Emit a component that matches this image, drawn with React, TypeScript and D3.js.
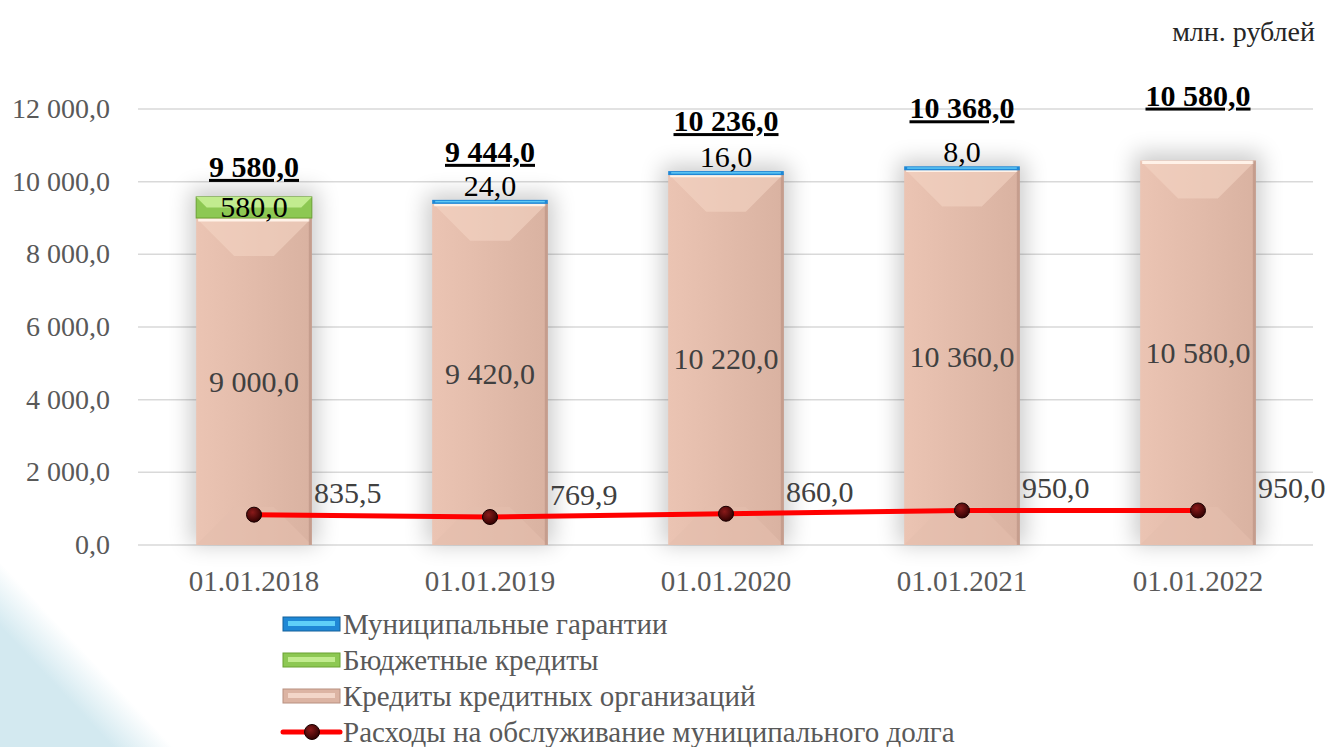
import React from 'react';
import * as d3 from 'd3';

const dates = ['01.01.2018', '01.01.2019', '01.01.2020', '01.01.2021', '01.01.2022'];
const creditOrg = [9000, 9420, 10220, 10360, 10580];
const budgetCredits = [580, 0, 0, 0, 0];
const guarantees = [0, 24, 16, 8, 0];
const debtExpenses = [835.5, 769.9, 860, 950, 950];
const yTicks = [0, 2000, 4000, 6000, 8000, 10000, 12000];

const legendItems = [
  'Муниципальные гарантии',
  'Бюджетные кредиты',
  'Кредиты кредитных организаций',
  'Расходы на обслуживание муниципального долга',
];

const fmt = (v: number) => {
  const [int, dec] = v.toFixed(1).split('.');
  return int.replace(/\B(?=(\d{3})+(?!\d))/g, ' ') + ',' + dec;
};

const width = 1338;
const height = 747;
const x = d3.scalePoint<string>().domain(dates).range([136, 1316]).padding(0.5);
const y = d3.scaleLinear().domain([0, 12000]).range([545, 109]);
const barW = x.step() * 0.49;

// ручное смещение итоговых подписей над столбцами, как в оригинале
const totalLift = [30, 50, 52, 60, 65];

const line = d3.line<number>().x((_, i) => x(dates[i])!).y(v => y(v));

const PinkBar = ({ x0, y0, w, h }: { x0: number; y0: number; w: number; h: number }) => {
  const b = Math.min(38, h / 2, w / 2);
  return (
    <g>
      <rect x={x0} y={y0} width={w} height={h} fill="url(#pinkH)" />
      <polygon points={`${x0},${y0} ${x0 + w},${y0} ${x0 + w - b},${y0 + b} ${x0 + b},${y0 + b}`}
        fill="#f4d3c3" opacity={0.6} />
      <line x1={x0 + 2} x2={x0 + w - 2} y1={y0 + 2} y2={y0 + 2} stroke="#fff2e8" strokeWidth={3} />
      <polygon points={`${x0},${y0 + h} ${x0 + w},${y0 + h} ${x0 + w - b},${y0 + h - b} ${x0 + b},${y0 + h - b}`}
        fill="#e5bead" opacity={0.6} />
      <rect x={x0 + w - 3} y={y0} width={3} height={h} fill="#b88f80" opacity={0.6} />
    </g>
  );
};

const txt = (size: number, fill: string, bold = false) => ({
  style: bold
    ? { fontFamily: '"Liberation Serif"', fontWeight: 700, textDecoration: 'underline' }
    : { fontFamily: '"Liberation Serif"' },
  fontSize: size,
  fill,
});

const App = () => (
  <svg width={width} height={height} style={{ position: 'absolute', left: 0, top: 0 }}>
    <defs>
      <linearGradient id="bgGrad" gradientUnits="userSpaceOnUse" x1={88} y1={656} x2={56} y2={686}>
        <stop offset="0" stopColor="#d3e9f0" stopOpacity={0} />
        <stop offset="1" stopColor="#d3e9f0" stopOpacity={1} />
      </linearGradient>
      <filter id="glow" x="-50%" y="-50%" width="200%" height="200%">
        <feGaussianBlur stdDeviation={11} />
      </filter>
      <linearGradient id="pinkH">
        <stop offset="0" stopColor="#ebc4b3" />
        <stop offset="1" stopColor="#d9b2a1" />
      </linearGradient>
      <radialGradient id="mk" cx="0.4" cy="0.35" r="0.7">
        <stop offset="0" stopColor="#8a1a1a" />
        <stop offset="1" stopColor="#2a0000" />
      </radialGradient>
    </defs>

    <rect x={0} y={560} width={220} height={190} fill="url(#bgGrad)" />

    {/* сетка и ось Y */}
    {yTicks.map(t => (
      <g key={t}>
        <line x1={138} x2={1313} y1={y(t)} y2={y(t)} stroke="#d9d9d9" strokeWidth={1.5} />
        <text x={110} y={y(t) + 9} textAnchor="end" {...txt(28, '#595959')}>{fmt(t)}</text>
      </g>
    ))}

    {dates.map(d => (
      <text key={d} x={x(d)} y={591} textAnchor="middle" {...txt(29, '#595959')}>{d}</text>
    ))}

    <text x={1315} y={41} textAnchor="end" {...txt(28, '#262626')}>млн. рублей</text>

    {/* тени */}
    {dates.map((d, i) => {
      const total = creditOrg[i] + budgetCredits[i] + guarantees[i];
      return (
        <rect key={d} x={x(d)! - barW / 2 - 6} y={y(total) - 8} width={barW + 12}
          height={y(0) - y(total) + 8} fill="#000" opacity={0.2} filter="url(#glow)" />
      );
    })}

    {/* столбцы */}
    {dates.map((d, i) => {
      const cx = x(d)!;
      const x0 = cx - barW / 2;
      const top0 = y(creditOrg[i]);
      const base = creditOrg[i] + budgetCredits[i];
      const tg = y(base);
      const hg = top0 - tg;
      const tb = y(base + guarantees[i]);
      return (
        <g key={d}>
          <PinkBar x0={x0} y0={top0} w={barW} h={y(0) - top0} />
          {budgetCredits[i] > 0 && (
            <g>
              <rect x={x0} y={tg} width={barW} height={hg} fill="#8dc853" stroke="#6aa232" />
              <polygon points={`${x0},${tg} ${x0 + barW},${tg} ${x0 + barW - hg / 2},${tg + hg / 2} ${x0 + hg / 2},${tg + hg / 2}`}
                fill="#c2ec8f" />
              <text x={cx} y={(tg + top0) / 2 + 10} textAnchor="middle" {...txt(30, '#000')}>
                {fmt(budgetCredits[i])}
              </text>
            </g>
          )}
          {guarantees[i] > 0 && (
            <g>
              <rect x={x0} y={tb - 2} width={barW} height={4} fill="#1f88d6" />
              <rect x={x0 + 3} y={tb - 1} width={barW - 6} height={1.5} fill="#5fc8f5" />
              <text x={cx} y={tb - 6} textAnchor="middle" {...txt(30, '#000')}>{fmt(guarantees[i])}</text>
            </g>
          )}
          <text x={cx} y={(top0 + y(0)) / 2 + 10} textAnchor="middle" {...txt(30, '#404040')}>
            {fmt(creditOrg[i])}
          </text>
        </g>
      );
    })}

    {/* итоги */}
    {dates.map((d, i) => {
      const total = creditOrg[i] + budgetCredits[i] + guarantees[i];
      return (
        <text key={d} x={x(d)} y={y(total) - totalLift[i] + 10} textAnchor="middle" {...txt(30, '#000', true)}>
          {fmt(total)}
        </text>
      );
    })}

    {/* линия расходов */}
    <path d={line(debtExpenses)!} fill="none" stroke="#ff0000" strokeWidth={5} />
    {debtExpenses.map((v, i) => (
      <g key={i}>
        <circle cx={x(dates[i])} cy={y(v)} r={7.5} fill="url(#mk)" stroke="#1a0000" />
        <text x={x(dates[i])! + 60} y={y(v) - 12} {...txt(30, '#404040')}>{fmt(v)}</text>
      </g>
    ))}

    {/* легенда */}
    {legendItems.map((name, i) => {
      const lx = 283;
      const cy = 624 + i * 36;
      const fills = ['#1f88d6', '#8dc853', '#dcb4a3'];
      const lights = ['#5fd0f8', '#c2ec8f', '#f3d6c8'];
      const edges = ['#15609a', '#6aa232', '#b89080'];
      return (
        <g key={name}>
          {i === 3 ? (
            <g>
              <line x1={lx} x2={lx + 57} y1={cy} y2={cy} stroke="#ff0000" strokeWidth={5} strokeLinecap="round" />
              <circle cx={lx + 29} cy={cy} r={7.5} fill="url(#mk)" stroke="#1a0000" />
            </g>
          ) : (
            <g>
              <rect x={lx} y={cy - 7} width={57} height={14} fill={fills[i]} stroke={edges[i]} />
              <rect x={lx + 5} y={cy - 3} width={47} height={5} fill={lights[i]} />
            </g>
          )}
          <text x={lx + 60} y={cy + 10} {...txt(29, '#595959')}>{name}</text>
        </g>
      );
    })}
  </svg>
);

export default App;
